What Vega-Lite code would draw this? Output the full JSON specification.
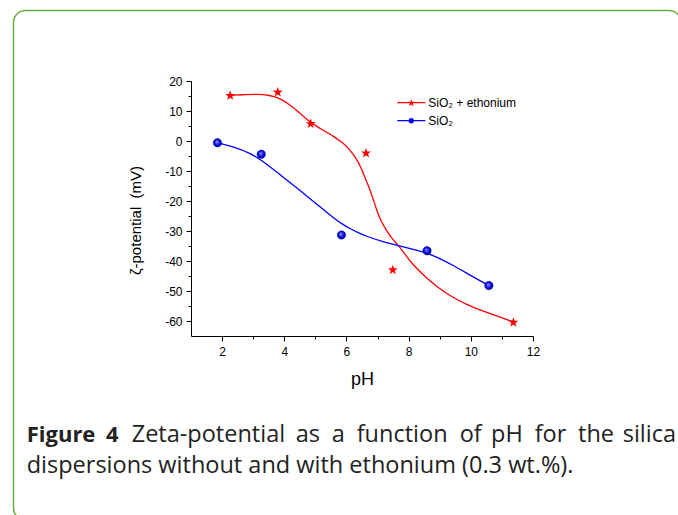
{
  "$schema": "https://vega.github.io/schema/vega-lite/v6.json",
  "width": 342,
  "height": 255,
  "autosize": {"type": "none"},
  "padding": {"left": 191, "top": 81, "right": 145, "bottom": 179},
  "background": "white",
  "config": {"view": {"stroke": null}, "font": "Liberation Sans"},
  "datasets": {
    "points": [
      {"series": "SiO₂ + ethonium", "pH": 2.26, "zeta": 15.3},
      {"series": "SiO₂ + ethonium", "pH": 3.79, "zeta": 16.4},
      {"series": "SiO₂ + ethonium", "pH": 4.85, "zeta": 5.9},
      {"series": "SiO₂ + ethonium", "pH": 6.63, "zeta": -3.9},
      {"series": "SiO₂ + ethonium", "pH": 7.49, "zeta": -42.8},
      {"series": "SiO₂ + ethonium", "pH": 11.37, "zeta": -60.3},
      {"series": "SiO₂", "pH": 1.85, "zeta": -0.6},
      {"series": "SiO₂", "pH": 3.26, "zeta": -4.4},
      {"series": "SiO₂", "pH": 5.84, "zeta": -31.3},
      {"series": "SiO₂", "pH": 8.59, "zeta": -36.6},
      {"series": "SiO₂", "pH": 10.58, "zeta": -48.2}
    ],
    "curves": [
      {"series": "SiO₂ + ethonium", "pH": 2.26, "zeta": 15.3},
      {"series": "SiO₂ + ethonium", "pH": 2.69, "zeta": 15.4},
      {"series": "SiO₂ + ethonium", "pH": 3.11, "zeta": 15.6},
      {"series": "SiO₂ + ethonium", "pH": 3.54, "zeta": 15.3},
      {"series": "SiO₂ + ethonium", "pH": 3.86, "zeta": 14.2},
      {"series": "SiO₂ + ethonium", "pH": 4.19, "zeta": 12.0},
      {"series": "SiO₂ + ethonium", "pH": 4.51, "zeta": 9.2},
      {"series": "SiO₂ + ethonium", "pH": 4.85, "zeta": 6.1},
      {"series": "SiO₂ + ethonium", "pH": 5.25, "zeta": 3.6},
      {"series": "SiO₂ + ethonium", "pH": 5.58, "zeta": 1.6},
      {"series": "SiO₂ + ethonium", "pH": 5.9, "zeta": -0.7},
      {"series": "SiO₂ + ethonium", "pH": 6.11, "zeta": -3.0},
      {"series": "SiO₂ + ethonium", "pH": 6.3, "zeta": -5.6},
      {"series": "SiO₂ + ethonium", "pH": 6.45, "zeta": -8.4},
      {"series": "SiO₂ + ethonium", "pH": 6.6, "zeta": -12.3},
      {"series": "SiO₂ + ethonium", "pH": 6.72, "zeta": -15.2},
      {"series": "SiO₂ + ethonium", "pH": 6.85, "zeta": -19.0},
      {"series": "SiO₂ + ethonium", "pH": 6.97, "zeta": -23.0},
      {"series": "SiO₂ + ethonium", "pH": 7.1, "zeta": -26.5},
      {"series": "SiO₂ + ethonium", "pH": 7.29, "zeta": -29.9},
      {"series": "SiO₂ + ethonium", "pH": 7.5, "zeta": -33.0},
      {"series": "SiO₂ + ethonium", "pH": 7.71, "zeta": -35.2},
      {"series": "SiO₂ + ethonium", "pH": 7.92, "zeta": -38.3},
      {"series": "SiO₂ + ethonium", "pH": 8.14, "zeta": -41.2},
      {"series": "SiO₂ + ethonium", "pH": 8.4, "zeta": -43.9},
      {"series": "SiO₂ + ethonium", "pH": 8.68, "zeta": -46.6},
      {"series": "SiO₂ + ethonium", "pH": 9.0, "zeta": -49.3},
      {"series": "SiO₂ + ethonium", "pH": 9.43, "zeta": -52.2},
      {"series": "SiO₂ + ethonium", "pH": 9.85, "zeta": -54.4},
      {"series": "SiO₂ + ethonium", "pH": 10.28, "zeta": -56.3},
      {"series": "SiO₂ + ethonium", "pH": 10.8, "zeta": -58.2},
      {"series": "SiO₂ + ethonium", "pH": 11.37, "zeta": -60.3},
      {"series": "SiO₂", "pH": 1.85, "zeta": -0.6},
      {"series": "SiO₂", "pH": 2.37, "zeta": -1.9},
      {"series": "SiO₂", "pH": 2.9, "zeta": -4.0},
      {"series": "SiO₂", "pH": 3.33, "zeta": -6.8},
      {"series": "SiO₂", "pH": 3.86, "zeta": -11.2},
      {"series": "SiO₂", "pH": 4.4, "zeta": -15.6},
      {"series": "SiO₂", "pH": 4.8, "zeta": -19.0},
      {"series": "SiO₂", "pH": 5.2, "zeta": -22.4},
      {"series": "SiO₂", "pH": 5.58, "zeta": -25.6},
      {"series": "SiO₂", "pH": 5.85, "zeta": -27.6},
      {"series": "SiO₂", "pH": 6.11, "zeta": -29.2},
      {"series": "SiO₂", "pH": 6.4, "zeta": -30.7},
      {"series": "SiO₂", "pH": 6.65, "zeta": -31.8},
      {"series": "SiO₂", "pH": 7.18, "zeta": -33.6},
      {"series": "SiO₂", "pH": 7.71, "zeta": -35.0},
      {"series": "SiO₂", "pH": 8.25, "zeta": -36.4},
      {"series": "SiO₂", "pH": 8.57, "zeta": -37.3},
      {"series": "SiO₂", "pH": 8.9, "zeta": -38.6},
      {"series": "SiO₂", "pH": 9.43, "zeta": -41.4},
      {"series": "SiO₂", "pH": 10.07, "zeta": -45.3},
      {"series": "SiO₂", "pH": 10.58, "zeta": -48.2}
    ]
  },
  "encoding": {
    "x": {
      "field": "pH", "type": "quantitative",
      "scale": {"domain": [1, 12], "nice": false, "zero": false},
      "axis": {
        "values": [2, 3, 4, 5, 6, 7, 8, 9, 10, 11, 12],
        "labelExpr": "datum.value % 2 === 0 ? toString(datum.value) : ''",
        "tickSize": {"condition": {"test": "datum.value % 2 !== 0", "value": 3}, "value": 5},
        "grid": false, "labelOverlap": false, "labelFlush": false,
        "domainColor": "#000", "tickColor": "#000", "domainWidth": 1, "tickWidth": 1,
        "labelColor": "#000", "labelFont": "Liberation Sans", "labelFontSize": 12, "labelPadding": 5,
        "title": "pH", "titleFont": "Liberation Sans", "titleFontSize": 18, "titleFontWeight": "normal",
        "titleColor": "#000", "titleY": 48, "titleBaseline": "alphabetic"
      }
    },
    "y": {
      "field": "zeta", "type": "quantitative",
      "scale": {"domain": [-65, 20], "nice": false, "zero": false},
      "axis": {
        "values": [-60, -55, -50, -45, -40, -35, -30, -25, -20, -15, -10, -5, 0, 5, 10, 15, 20],
        "labelExpr": "datum.value % 10 === 0 ? toString(datum.value) : ''",
        "tickSize": {"condition": {"test": "datum.value % 10 !== 0", "value": 3}, "value": 5},
        "grid": false, "labelOverlap": false, "labelFlush": false,
        "domainColor": "#000", "tickColor": "#000", "domainWidth": 1, "tickWidth": 1,
        "labelColor": "#000", "labelFont": "Liberation Sans", "labelFontSize": 12, "labelPadding": 4,
        "title": "ζ-potential\u00a0 (mV)", "titleFont": "Liberation Sans", "titleFontSize": 15, "titleFontWeight": "normal",
        "titleColor": "#000", "titleX": -50.5, "titleY": 139, "titleAngle": -90, "titleAlign": "center", "titleBaseline": "alphabetic"
      }
    }
  },
  "layer": [
    {
      "data": {"values": [{}]},
      "mark": {"type": "rect", "fill": "white", "fillOpacity": 0, "stroke": "#6cae3e", "strokeWidth": 1.5, "cornerRadius": 12},
      "encoding": {"x": {"value": -177.5}, "x2": {"value": 490}, "y": {"value": -70.5}, "y2": {"value": 439}}
    },
    {
      "data": {"name": "curves"},
      "transform": [{"filter": "datum.series === 'SiO₂ + ethonium'"}],
      "mark": {"type": "line", "interpolate": "basis", "strokeWidth": 1.3, "color": "#ff0000"}
    },
    {
      "data": {"name": "curves"},
      "transform": [{"filter": "datum.series === 'SiO₂'"}],
      "mark": {"type": "line", "interpolate": "basis", "strokeWidth": 1.3, "color": "#0000ff"}
    },
    {
      "data": {"name": "points"},
      "transform": [{"filter": "datum.series === 'SiO₂ + ethonium'"}],
      "mark": {"type": "point", "filled": true, "opacity": 1, "color": "#ff0000", "strokeWidth": 0, "size": 110,
        "shape": "M0,-0.905L0.235,-0.229L0.951,-0.214L0.38,0.219L0.588,0.904L0,0.495L-0.588,0.904L-0.38,0.219L-0.951,-0.214L-0.235,-0.229Z"}
    },
    {
      "data": {"name": "points"},
      "transform": [{"filter": "datum.series === 'SiO₂'"}],
      "mark": {"type": "point", "filled": true, "opacity": 1, "shape": "circle", "size": 72,
        "fill": {"gradient": "radial", "x1": 0.42, "y1": 0.38, "r1": 0, "x2": 0.5, "y2": 0.5, "r2": 0.55,
          "stops": [{"offset": 0, "color": "#d0d0ff"}, {"offset": 0.3, "color": "#3a3aff"}, {"offset": 0.75, "color": "#0000d0"}, {"offset": 1, "color": "#00007a"}]},
        "stroke": "#00006a", "strokeWidth": 0.4}
    },
    {
      "data": {"name": "points"},
      "mark": {"type": "point", "filled": true, "opacity": 0},
      "encoding": {
        "color": {"field": "series", "type": "nominal", "scale": {"domain": ["SiO₂ + ethonium", "SiO₂"], "range": ["#ff0000", "#0000ff"]},
          "legend": {"orient": "none", "legendX": 213.3, "legendY": 14.7, "title": null, "padding": 0, "rowPadding": 5, "labelOffset": 10,
            "labelFont": "Liberation Sans", "labelFontSize": 12, "labelColor": "#000", "symbolSize": 196, "symbolStrokeWidth": 0, "symbolOpacity": 1,
            "encode": {"symbols": {"update": {"opacity": {"value": 1}, "fillOpacity": {"value": 1}}}}}},
        "shape": {"field": "series", "type": "nominal",
          "scale": {"domain": ["SiO₂ + ethonium", "SiO₂"], "range": [
            "M-2,-0.09L2,-0.09L2,0.09L-2,0.09ZM0,-0.5L0.129,-0.128L0.523,-0.12L0.209,0.118L0.323,0.495L0,0.27L-0.323,0.495L-0.209,0.118L-0.523,-0.12L-0.129,-0.128Z",
            "M-2,-0.09L2,-0.09L2,0.09L-2,0.09ZM-0.4,0A0.4,0.4 0 1,1 0.4,0A0.4,0.4 0 1,1 -0.4,0Z"]},
          "legend": {"orient": "none", "legendX": 213.3, "legendY": 14.7, "title": null, "padding": 0, "rowPadding": 5, "labelOffset": 10,
            "labelFont": "Liberation Sans", "labelFontSize": 12, "labelColor": "#000", "symbolSize": 196, "symbolStrokeWidth": 0, "symbolOpacity": 1,
            "encode": {"symbols": {"update": {"opacity": {"value": 1}, "fillOpacity": {"value": 1}}}}}}
      }
    },
    {"data": {"values": [{}]}, "mark": {"type": "text", "text": "Figure", "font": "Open Sans", "fontSize": 22, "fontWeight": "bold", "color": "#222", "align": "left", "baseline": "alphabetic"}, "encoding": {"x": {"value": -164.3}, "y": {"value": 360.7}}},
    {"data": {"values": [{}]}, "mark": {"type": "text", "text": "4", "font": "Open Sans", "fontSize": 22, "fontWeight": "bold", "color": "#222", "align": "left", "baseline": "alphabetic"}, "encoding": {"x": {"value": -85}, "y": {"value": 360.7}}},
    {"data": {"values": [{}]}, "mark": {"type": "text", "text": "Zeta-potential", "font": "Open Sans", "fontSize": 23.5, "color": "#222", "align": "left", "baseline": "alphabetic"}, "encoding": {"x": {"value": -59.3}, "y": {"value": 360.7}}},
    {"data": {"values": [{}]}, "mark": {"type": "text", "text": "as", "font": "Open Sans", "fontSize": 23.5, "color": "#222", "align": "left", "baseline": "alphabetic"}, "encoding": {"x": {"value": 104.7}, "y": {"value": 360.7}}},
    {"data": {"values": [{}]}, "mark": {"type": "text", "text": "a", "font": "Open Sans", "fontSize": 23.5, "color": "#222", "align": "left", "baseline": "alphabetic"}, "encoding": {"x": {"value": 140.7}, "y": {"value": 360.7}}},
    {"data": {"values": [{}]}, "mark": {"type": "text", "text": "function", "font": "Open Sans", "fontSize": 23.5, "color": "#222", "align": "left", "baseline": "alphabetic"}, "encoding": {"x": {"value": 165.7}, "y": {"value": 360.7}}},
    {"data": {"values": [{}]}, "mark": {"type": "text", "text": "of", "font": "Open Sans", "fontSize": 23.5, "color": "#222", "align": "left", "baseline": "alphabetic"}, "encoding": {"x": {"value": 268.7}, "y": {"value": 360.7}}},
    {"data": {"values": [{}]}, "mark": {"type": "text", "text": "pH", "font": "Open Sans", "fontSize": 23.5, "color": "#222", "align": "left", "baseline": "alphabetic"}, "encoding": {"x": {"value": 300}, "y": {"value": 360.7}}},
    {"data": {"values": [{}]}, "mark": {"type": "text", "text": "for", "font": "Open Sans", "fontSize": 23.5, "color": "#222", "align": "left", "baseline": "alphabetic"}, "encoding": {"x": {"value": 343.7}, "y": {"value": 360.7}}},
    {"data": {"values": [{}]}, "mark": {"type": "text", "text": "the", "font": "Open Sans", "fontSize": 23.5, "color": "#222", "align": "left", "baseline": "alphabetic"}, "encoding": {"x": {"value": 387}, "y": {"value": 360.7}}},
    {"data": {"values": [{}]}, "mark": {"type": "text", "text": "silica", "font": "Open Sans", "fontSize": 23.5, "color": "#222", "align": "right", "baseline": "alphabetic"}, "encoding": {"x": {"value": 485}, "y": {"value": 360.7}}},
    {"data": {"values": [{}]}, "mark": {"type": "text", "text": "dispersions without and with ethonium (0.3 wt.%).", "font": "Open Sans", "fontSize": 23.5, "color": "#222", "align": "left", "baseline": "alphabetic"}, "encoding": {"x": {"value": -164.3}, "y": {"value": 392.3}}}
  ]
}
